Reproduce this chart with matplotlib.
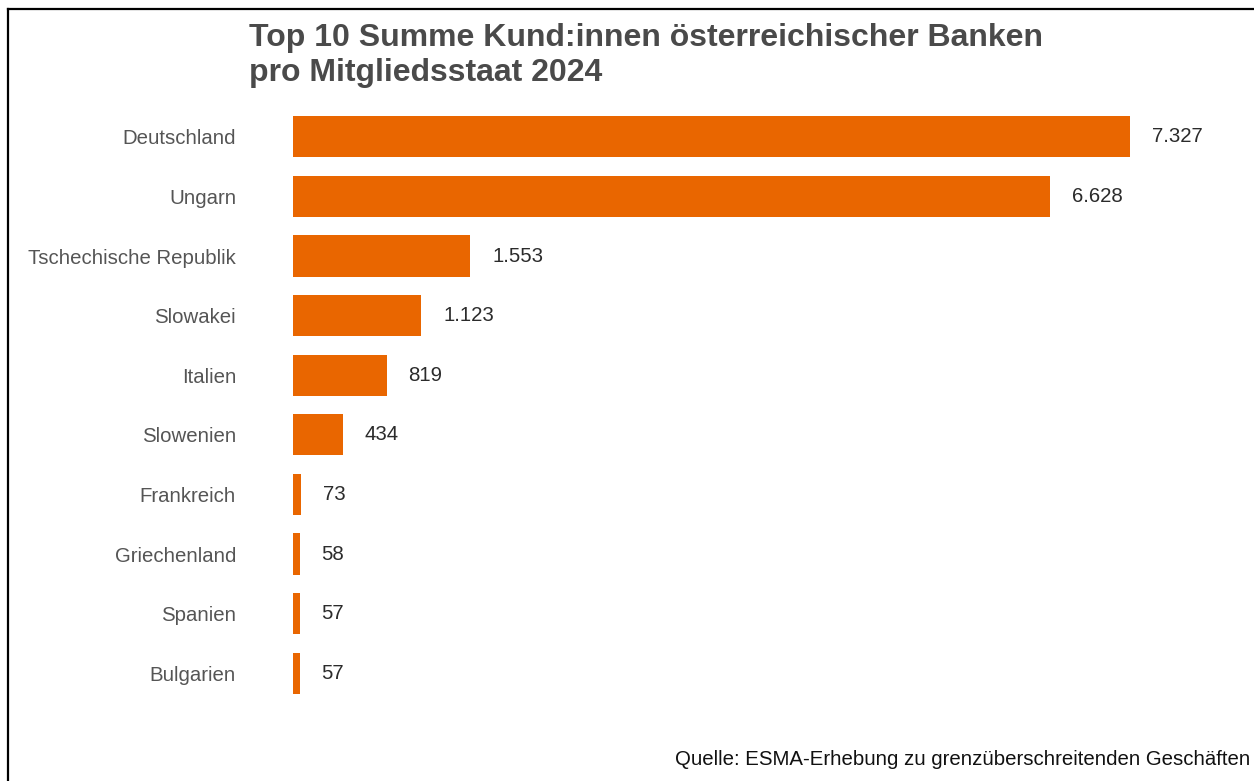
import matplotlib.pyplot as plt
from matplotlib.lines import Line2D

plt.rcParams['font.family'] = ['Liberation Sans', 'DejaVu Sans']

laender = ["Deutschland", "Ungarn", "Tschechische Republik", "Slowakei", "Italien",
           "Slowenien", "Frankreich", "Griechenland", "Spanien", "Bulgarien"]
kunden = [7327, 6628, 1553, 1123, 819, 434, 73, 58, 57, 57]

W, H = 1254, 781
fig = plt.figure(figsize=(W / 100, H / 100), dpi=100)

# plot area: x=0 at 293px, one row = ~59.6px
left_px, right_px = 293, W
top_px, bot_px = 107, 703
ax = fig.add_axes([left_px / W, 1 - bot_px / H, (right_px - left_px) / W, (bot_px - top_px) / H])

pos = list(range(len(laender)))
ax.barh(pos, kunden, height=0.69, color="#E96600")
ax.set_ylim(len(laender) - 0.5, -0.5)
xmax = (right_px - left_px) / (837 / 7327)
ax.set_xlim(0, xmax)

def fmt(v):
    return f"{v:,}".replace(",", ".")

off = 22 * xmax / (right_px - left_px)
for p, v in zip(pos, kunden):
    ax.text(v + off, p, fmt(v), va="center", ha="left", fontsize=14.7, color="#2b2b2b")

ax.set_yticks(pos)
ax.set_yticklabels(laender, fontsize=14.7, color="#555555")
ax.tick_params(axis="y", length=0, pad=41)
ax.set_xticks([])
for s in ax.spines.values():
    s.set_visible(False)

fig.text(249 / W, 1 - 46 / H, "Top 10 Summe Kund:innen österreichischer Banken",
         fontsize=23, fontweight="bold", color="#4a4a4a", va="baseline", ha="left")
fig.text(249 / W, 1 - 81 / H, "pro Mitgliedsstaat 2024",
         fontsize=23, fontweight="bold", color="#4a4a4a", va="baseline", ha="left")

fig.text(1250 / W, 1 - 765 / H, "Quelle: ESMA-Erhebung zu grenzüberschreitenden Geschäften",
         fontsize=14.7, color="#111111", va="baseline", ha="right")

# frame lines along top and left edge
fig.add_artist(Line2D([8 / W, 1], [1 - 9 / H, 1 - 9 / H], color="black", lw=1.6, transform=fig.transFigure))
fig.add_artist(Line2D([8 / W, 8 / W], [0, 1 - 9 / H], color="black", lw=1.6, transform=fig.transFigure))

fig.savefig("out.png", dpi=100)
